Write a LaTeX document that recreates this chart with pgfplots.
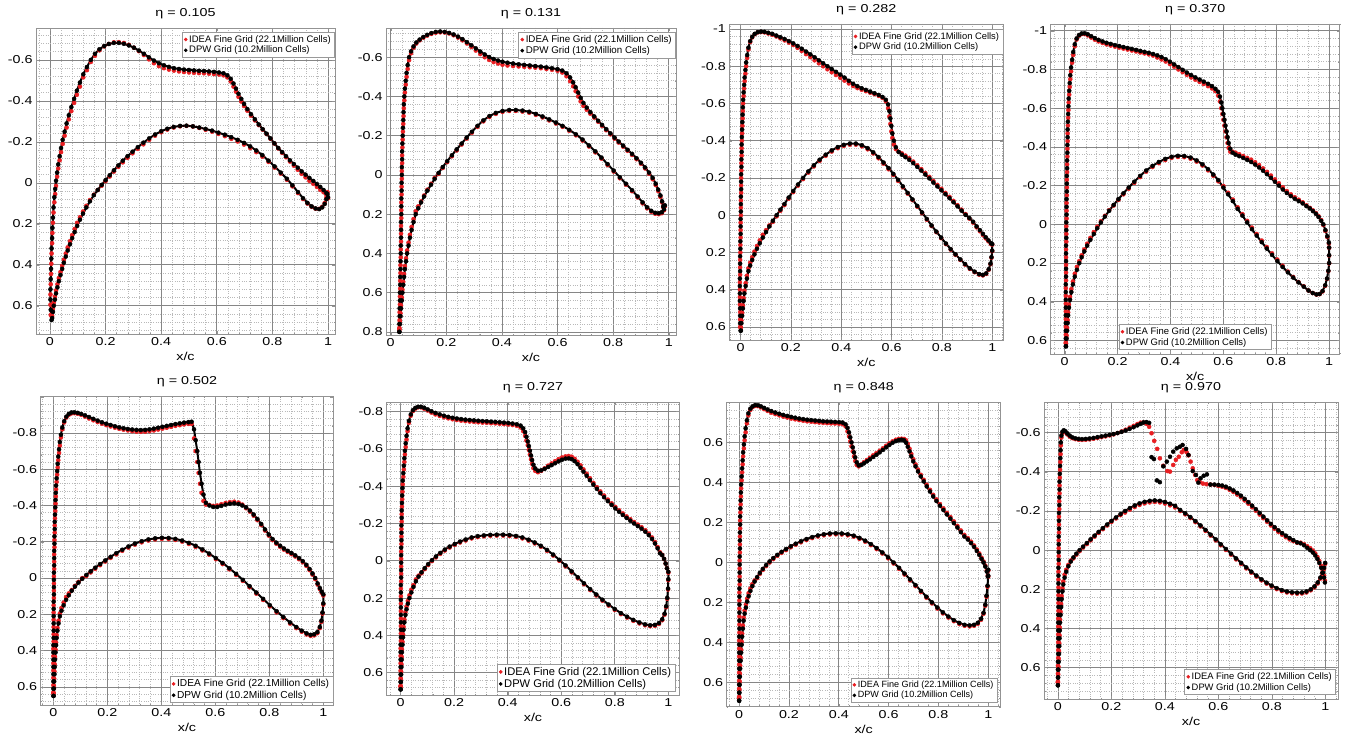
\documentclass[border=0pt]{standalone}
\usepackage{fontspec}
\setmainfont{Liberation Sans}
\usepackage{graphicx}
\usepackage{pgfplots}
\usepackage{pgfplotstable}
\pgfplotsset{compat=1.18}
\definecolor{idea}{RGB}{232,30,34}
\newcommand{\sx}[1]{\scalebox{1.25}[1]{#1}}

% ---------------- eta = 0.105 ----------------
\pgfplotstableread{
x r b
0.006 0.65 0.67
0.003 0.645 0.62
0.002 0.595 0.57
0.002 0.545 0.52
0.003 0.495 0.47
0.004 0.445 0.42
0.005 0.395 0.37
0.006 0.345 0.32
0.008 0.295 0.27
0.009 0.245 0.22
0.011 0.195 0.17
0.013 0.145 0.12
0.016 0.095 0.07
0.019 0.055 0.03
0.022 0.015 -0.01
0.026 -0.03 -0.05
0.030 -0.07 -0.09
0.035 -0.11 -0.13
0.040 -0.15 -0.17
0.046 -0.19 -0.21
0.053 -0.23 -0.25
0.060 -0.27 -0.29
0.068 -0.31 -0.33
0.077 -0.35 -0.37
0.087 -0.39 -0.41
0.097 -0.43 -0.45
0.108 -0.47 -0.49
0.120 -0.515 -0.53
0.133 -0.55 -0.565
0.147 -0.59 -0.60
0.162 -0.62 -0.63
0.178 -0.647 -0.652
0.195 -0.666 -0.668
0.212 -0.678 -0.678
0.230 -0.686 -0.683
0.248 -0.687 -0.683
0.266 -0.683 -0.679
0.284 -0.674 -0.671
0.302 -0.66 -0.66
0.320 -0.643 -0.646
0.338 -0.624 -0.63
0.356 -0.603 -0.613
0.374 -0.584 -0.597
0.392 -0.57 -0.584
0.410 -0.56 -0.574
0.428 -0.553 -0.566
0.446 -0.548 -0.56
0.464 -0.544 -0.556
0.482 -0.541 -0.553
0.500 -0.539 -0.551
0.518 -0.537 -0.549
0.536 -0.536 -0.547
0.554 -0.535 -0.546
0.572 -0.533 -0.544
0.590 -0.531 -0.542
0.608 -0.529 -0.539
0.624 -0.525 -0.535
0.638 -0.515 -0.525
0.650 -0.495 -0.508
0.660 -0.47 -0.485
0.669 -0.445 -0.46
0.678 -0.42 -0.435
0.688 -0.397 -0.41
0.698 -0.375 -0.385
0.710 -0.352 -0.36
0.723 -0.328 -0.335
0.737 -0.305 -0.31
0.751 -0.282 -0.285
0.765 -0.26 -0.262
0.779 -0.238 -0.24
0.793 -0.215 -0.217
0.807 -0.192 -0.193
0.821 -0.168 -0.17
0.835 -0.146 -0.15
0.849 -0.125 -0.13
0.863 -0.104 -0.11
0.877 -0.084 -0.092
0.891 -0.064 -0.074
0.905 -0.044 -0.056
0.919 -0.027 -0.04
0.933 -0.01 -0.024
0.947 0.005 -0.009
0.960 0.02 0.006
0.972 0.034 0.02
0.984 0.046 0.035
0.994 0.058 0.05
1.0 0.075 0.07
}\PaU
\pgfplotstableread{
x r b
0.008 0.65 0.66
0.011 0.615 0.63
0.014 0.585 0.60
0.018 0.555 0.57
0.022 0.525 0.54
0.027 0.495 0.51
0.032 0.465 0.48
0.038 0.435 0.45
0.044 0.405 0.42
0.050 0.375 0.39
0.057 0.345 0.36
0.064 0.315 0.33
0.072 0.285 0.30
0.080 0.255 0.27
0.089 0.225 0.24
0.098 0.195 0.21
0.108 0.168 0.18
0.119 0.14 0.15
0.131 0.112 0.12
0.144 0.084 0.09
0.158 0.058 0.06
0.172 0.035 0.035
0.186 0.014 0.01
0.200 -0.008 -0.013
0.215 -0.031 -0.037
0.230 -0.055 -0.061
0.246 -0.078 -0.085
0.262 -0.1 -0.108
0.279 -0.122 -0.13
0.297 -0.144 -0.152
0.316 -0.166 -0.174
0.336 -0.188 -0.196
0.357 -0.21 -0.217
0.378 -0.23 -0.236
0.400 -0.247 -0.252
0.422 -0.26 -0.264
0.445 -0.27 -0.273
0.468 -0.276 -0.278
0.491 -0.278 -0.279
0.514 -0.275 -0.276
0.537 -0.268 -0.27
0.560 -0.259 -0.263
0.583 -0.25 -0.255
0.606 -0.239 -0.245
0.629 -0.228 -0.235
0.652 -0.215 -0.223
0.675 -0.202 -0.21
0.698 -0.187 -0.195
0.720 -0.17 -0.178
0.742 -0.15 -0.158
0.764 -0.128 -0.135
0.786 -0.102 -0.108
0.808 -0.074 -0.08
0.830 -0.045 -0.05
0.852 -0.015 -0.02
0.872 0.017 0.012
0.892 0.05 0.045
0.910 0.079 0.075
0.926 0.101 0.098
0.941 0.117 0.115
0.955 0.126 0.125
0.968 0.127 0.128
0.979 0.117 0.12
0.988 0.098 0.103
0.994 0.072 0.08
0.998 0.045 0.055
}\PaL

% ---------------- eta = 0.131 ----------------
\pgfplotstableread{
x r b
0.031 0.79 0.80
0.031 0.78 0.76
0.032 0.74 0.72
0.032 0.70 0.68
0.033 0.66 0.64
0.033 0.62 0.60
0.034 0.58 0.56
0.034 0.54 0.52
0.035 0.50 0.48
0.035 0.46 0.44
0.036 0.42 0.40
0.036 0.38 0.36
0.037 0.34 0.32
0.037 0.30 0.28
0.037 0.26 0.24
0.038 0.22 0.20
0.038 0.18 0.16
0.038 0.14 0.12
0.039 0.10 0.08
0.039 0.06 0.04
0.040 0.02 0.00
0.040 -0.02 -0.04
0.041 -0.06 -0.08
0.041 -0.10 -0.12
0.042 -0.14 -0.16
0.043 -0.18 -0.20
0.044 -0.22 -0.24
0.045 -0.26 -0.28
0.046 -0.30 -0.32
0.047 -0.34 -0.36
0.049 -0.38 -0.40
0.051 -0.42 -0.44
0.054 -0.46 -0.48
0.057 -0.50 -0.52
0.061 -0.54 -0.56
0.066 -0.585 -0.60
0.073 -0.62 -0.63
0.082 -0.648 -0.655
0.092 -0.67 -0.675
0.104 -0.686 -0.69
0.117 -0.699 -0.703
0.131 -0.71 -0.714
0.146 -0.719 -0.723
0.162 -0.725 -0.729
0.178 -0.727 -0.731
0.194 -0.726 -0.729
0.210 -0.721 -0.724
0.226 -0.712 -0.716
0.242 -0.7 -0.705
0.258 -0.686 -0.692
0.274 -0.67 -0.677
0.290 -0.652 -0.661
0.306 -0.634 -0.645
0.322 -0.616 -0.629
0.338 -0.6 -0.614
0.354 -0.586 -0.601
0.370 -0.575 -0.591
0.386 -0.568 -0.583
0.402 -0.562 -0.577
0.420 -0.558 -0.572
0.440 -0.555 -0.568
0.460 -0.553 -0.564
0.480 -0.551 -0.561
0.500 -0.549 -0.558
0.520 -0.547 -0.555
0.540 -0.544 -0.552
0.560 -0.54 -0.548
0.580 -0.536 -0.544
0.600 -0.531 -0.539
0.617 -0.522 -0.532
0.632 -0.503 -0.518
0.645 -0.478 -0.497
0.656 -0.452 -0.472
0.665 -0.427 -0.447
0.674 -0.4 -0.42
0.683 -0.375 -0.393
0.693 -0.352 -0.367
0.705 -0.332 -0.343
0.718 -0.312 -0.32
0.732 -0.292 -0.298
0.746 -0.271 -0.276
0.760 -0.25 -0.255
0.775 -0.228 -0.233
0.790 -0.207 -0.212
0.805 -0.185 -0.19
0.820 -0.165 -0.17
0.836 -0.144 -0.149
0.852 -0.123 -0.128
0.868 -0.102 -0.107
0.884 -0.08 -0.085
0.900 -0.057 -0.062
0.915 -0.033 -0.038
0.929 -0.006 -0.012
0.942 0.022 0.015
0.953 0.052 0.045
0.962 0.082 0.075
0.970 0.112 0.105
0.976 0.14 0.135
0.980 0.165 0.16
}\PbU
\pgfplotstableread{
x r b
0.031 0.785 0.80
0.033 0.745 0.76
0.035 0.705 0.72
0.037 0.665 0.68
0.040 0.625 0.64
0.042 0.585 0.60
0.045 0.545 0.56
0.048 0.505 0.52
0.051 0.465 0.48
0.055 0.425 0.44
0.059 0.385 0.40
0.064 0.345 0.36
0.069 0.305 0.32
0.075 0.265 0.28
0.082 0.225 0.24
0.090 0.185 0.20
0.099 0.16 0.17
0.109 0.135 0.14
0.120 0.105 0.11
0.132 0.075 0.08
0.145 0.045 0.05
0.158 0.015 0.02
0.172 -0.005 -0.01
0.187 -0.035 -0.04
0.203 -0.065 -0.07
0.220 -0.095 -0.10
0.237 -0.125 -0.13
0.255 -0.155 -0.16
0.273 -0.185 -0.19
0.292 -0.215 -0.22
0.312 -0.245 -0.25
0.333 -0.273 -0.278
0.355 -0.295 -0.300
0.378 -0.311 -0.316
0.402 -0.321 -0.326
0.426 -0.326 -0.331
0.450 -0.326 -0.331
0.474 -0.323 -0.328
0.498 -0.317 -0.322
0.522 -0.306 -0.311
0.546 -0.293 -0.298
0.570 -0.278 -0.283
0.594 -0.262 -0.267
0.618 -0.245 -0.25
0.642 -0.225 -0.23
0.666 -0.202 -0.207
0.690 -0.175 -0.18
0.713 -0.145 -0.15
0.736 -0.115 -0.12
0.758 -0.083 -0.088
0.780 -0.05 -0.055
0.802 -0.017 -0.022
0.824 0.017 0.012
0.846 0.05 0.045
0.868 0.083 0.078
0.888 0.115 0.11
0.906 0.145 0.14
0.922 0.17 0.165
0.937 0.188 0.183
0.951 0.198 0.193
0.964 0.2 0.195
0.975 0.195 0.19
0.983 0.18 0.175
0.986 0.16 0.155
}\PbL

% ---------------- eta = 0.282 ----------------
\pgfplotstableread{
x r b
0.000 0.60 0.62
-0.002 0.60 0.58
-0.002 0.56 0.54
-0.002 0.52 0.50
-0.003 0.48 0.46
-0.003 0.44 0.42
-0.003 0.40 0.38
-0.003 0.36 0.34
-0.002 0.32 0.30
-0.002 0.28 0.26
-0.002 0.24 0.22
-0.001 0.20 0.18
-0.001 0.16 0.14
0.000 0.12 0.10
0.000 0.08 0.06
0.000 0.04 0.02
0.001 0.00 -0.02
0.001 -0.04 -0.06
0.001 -0.08 -0.10
0.002 -0.12 -0.14
0.002 -0.16 -0.18
0.002 -0.20 -0.22
0.003 -0.24 -0.26
0.003 -0.28 -0.30
0.004 -0.32 -0.34
0.004 -0.36 -0.38
0.005 -0.40 -0.42
0.006 -0.44 -0.46
0.007 -0.48 -0.50
0.008 -0.52 -0.54
0.009 -0.56 -0.58
0.010 -0.60 -0.62
0.012 -0.64 -0.66
0.014 -0.68 -0.70
0.016 -0.72 -0.74
0.019 -0.76 -0.78
0.022 -0.80 -0.82
0.026 -0.845 -0.86
0.031 -0.89 -0.90
0.038 -0.93 -0.935
0.046 -0.955 -0.958
0.056 -0.972 -0.974
0.068 -0.982 -0.983
0.081 -0.984 -0.986
0.095 -0.982 -0.985
0.110 -0.976 -0.98
0.126 -0.969 -0.974
0.142 -0.96 -0.965
0.158 -0.95 -0.956
0.175 -0.939 -0.946
0.192 -0.927 -0.935
0.209 -0.914 -0.923
0.226 -0.899 -0.909
0.243 -0.882 -0.894
0.260 -0.865 -0.879
0.277 -0.849 -0.864
0.294 -0.832 -0.848
0.311 -0.816 -0.832
0.328 -0.8 -0.816
0.345 -0.784 -0.80
0.362 -0.768 -0.785
0.379 -0.753 -0.77
0.396 -0.738 -0.755
0.413 -0.723 -0.739
0.430 -0.708 -0.722
0.447 -0.694 -0.706
0.464 -0.683 -0.693
0.481 -0.674 -0.682
0.498 -0.666 -0.673
0.515 -0.658 -0.664
0.532 -0.65 -0.655
0.549 -0.641 -0.646
0.564 -0.63 -0.635
0.577 -0.612 -0.62
0.586 -0.575 -0.595
0.591 -0.53 -0.56
0.595 -0.49 -0.52
0.599 -0.45 -0.48
0.603 -0.415 -0.44
0.609 -0.38 -0.40
0.617 -0.355 -0.365
0.628 -0.34 -0.34
0.641 -0.332 -0.325
0.655 -0.32 -0.312
0.670 -0.306 -0.298
0.686 -0.288 -0.28
0.702 -0.268 -0.26
0.718 -0.248 -0.24
0.734 -0.227 -0.219
0.750 -0.206 -0.198
0.766 -0.184 -0.176
0.782 -0.163 -0.155
0.798 -0.142 -0.134
0.814 -0.12 -0.113
0.830 -0.099 -0.092
0.846 -0.077 -0.07
0.862 -0.054 -0.048
0.878 -0.03 -0.025
0.894 -0.006 -0.002
0.909 0.018 0.015
0.924 0.04 0.035
0.938 0.065 0.06
0.951 0.086 0.08
0.963 0.106 0.1
0.974 0.124 0.118
0.985 0.14 0.135
0.995 0.155 0.15
}\PcU
\pgfplotstableread{
x r b
0.001 0.605 0.62
0.003 0.565 0.58
0.006 0.525 0.54
0.009 0.485 0.50
0.012 0.445 0.46
0.015 0.405 0.42
0.020 0.365 0.38
0.025 0.325 0.34
0.031 0.285 0.30
0.038 0.255 0.27
0.046 0.225 0.24
0.055 0.195 0.21
0.065 0.165 0.18
0.076 0.135 0.15
0.088 0.105 0.12
0.101 0.08 0.09
0.114 0.055 0.06
0.128 0.036 0.03
0.143 0.006 0.00
0.158 -0.024 -0.03
0.174 -0.054 -0.06
0.191 -0.089 -0.095
0.209 -0.124 -0.13
0.228 -0.159 -0.165
0.248 -0.194 -0.20
0.269 -0.229 -0.235
0.291 -0.262 -0.268
0.314 -0.292 -0.298
0.338 -0.319 -0.325
0.362 -0.342 -0.348
0.386 -0.36 -0.366
0.410 -0.372 -0.378
0.434 -0.379 -0.385
0.458 -0.379 -0.385
0.482 -0.37 -0.376
0.505 -0.354 -0.36
0.527 -0.332 -0.338
0.548 -0.306 -0.312
0.568 -0.277 -0.283
0.588 -0.247 -0.253
0.607 -0.216 -0.222
0.626 -0.184 -0.19
0.645 -0.15 -0.155
0.664 -0.116 -0.12
0.683 -0.081 -0.085
0.702 -0.046 -0.05
0.721 -0.011 -0.015
0.740 0.024 0.02
0.759 0.058 0.055
0.778 0.091 0.088
0.797 0.123 0.12
0.816 0.155 0.152
0.835 0.185 0.182
0.854 0.213 0.21
0.873 0.24 0.237
0.892 0.265 0.262
0.911 0.288 0.285
0.930 0.306 0.303
0.948 0.319 0.316
0.963 0.323 0.32
0.976 0.315 0.312
0.986 0.293 0.29
0.993 0.263 0.26
0.997 0.228 0.225
1.0 0.193 0.19
1.0 0.158 0.155
}\PcL

% ---------------- eta = 0.370 ----------------
\pgfplotstableread{
x r b
0.004 0.615 0.63
0.004 0.61 0.59
0.004 0.57 0.55
0.004 0.53 0.51
0.004 0.49 0.47
0.004 0.45 0.43
0.004 0.41 0.39
0.004 0.37 0.35
0.004 0.33 0.31
0.005 0.29 0.27
0.005 0.25 0.23
0.005 0.21 0.19
0.005 0.17 0.15
0.005 0.13 0.11
0.006 0.09 0.07
0.006 0.05 0.03
0.006 0.01 -0.01
0.007 -0.03 -0.05
0.007 -0.07 -0.09
0.007 -0.11 -0.13
0.008 -0.15 -0.17
0.008 -0.19 -0.21
0.008 -0.23 -0.25
0.009 -0.27 -0.29
0.009 -0.31 -0.33
0.010 -0.35 -0.37
0.010 -0.39 -0.41
0.011 -0.43 -0.45
0.011 -0.47 -0.49
0.012 -0.51 -0.53
0.013 -0.55 -0.57
0.014 -0.59 -0.61
0.015 -0.63 -0.65
0.017 -0.67 -0.69
0.019 -0.71 -0.73
0.021 -0.75 -0.77
0.024 -0.79 -0.81
0.028 -0.835 -0.85
0.032 -0.875 -0.89
0.038 -0.92 -0.93
0.045 -0.955 -0.96
0.054 -0.974 -0.978
0.064 -0.983 -0.986
0.075 -0.983 -0.987
0.087 -0.976 -0.982
0.100 -0.965 -0.972
0.114 -0.954 -0.962
0.128 -0.945 -0.953
0.143 -0.937 -0.945
0.158 -0.93 -0.938
0.174 -0.924 -0.932
0.190 -0.918 -0.926
0.206 -0.913 -0.921
0.222 -0.908 -0.916
0.238 -0.903 -0.911
0.254 -0.898 -0.906
0.270 -0.893 -0.901
0.286 -0.888 -0.896
0.302 -0.883 -0.891
0.318 -0.878 -0.886
0.334 -0.872 -0.88
0.350 -0.862 -0.873
0.366 -0.852 -0.864
0.382 -0.841 -0.853
0.398 -0.828 -0.84
0.414 -0.814 -0.826
0.430 -0.80 -0.812
0.446 -0.786 -0.798
0.462 -0.772 -0.784
0.478 -0.759 -0.771
0.494 -0.747 -0.759
0.510 -0.736 -0.748
0.526 -0.725 -0.737
0.542 -0.714 -0.726
0.557 -0.702 -0.714
0.570 -0.688 -0.70
0.580 -0.665 -0.685
0.587 -0.635 -0.66
0.592 -0.60 -0.63
0.596 -0.57 -0.60
0.600 -0.54 -0.57
0.604 -0.51 -0.54
0.608 -0.48 -0.51
0.612 -0.45 -0.48
0.616 -0.42 -0.45
0.620 -0.395 -0.42
0.626 -0.375 -0.39
0.635 -0.375 -0.37
0.646 -0.37 -0.36
0.660 -0.362 -0.352
0.675 -0.353 -0.343
0.690 -0.343 -0.333
0.705 -0.334 -0.322
0.720 -0.321 -0.309
0.735 -0.306 -0.294
0.750 -0.289 -0.277
0.765 -0.271 -0.259
0.780 -0.252 -0.24
0.795 -0.232 -0.22
0.810 -0.212 -0.2
0.825 -0.192 -0.18
0.840 -0.172 -0.162
0.855 -0.155 -0.146
0.870 -0.14 -0.132
0.885 -0.127 -0.12
0.900 -0.114 -0.108
0.914 -0.098 -0.094
0.927 -0.085 -0.082
0.939 -0.072 -0.068
0.950 -0.058 -0.054
0.960 -0.042 -0.038
0.970 -0.022 -0.018
0.978 0.004 0.0
0.986 0.034 0.03
0.993 0.066 0.062
0.999 0.1 0.095
}\PdU
\pgfplotstableread{
x r b
0.005 0.615 0.63
0.007 0.575 0.59
0.009 0.535 0.55
0.011 0.495 0.51
0.013 0.455 0.47
0.016 0.415 0.43
0.020 0.375 0.39
0.025 0.335 0.35
0.031 0.295 0.31
0.038 0.255 0.27
0.046 0.22 0.235
0.055 0.19 0.20
0.064 0.16 0.17
0.074 0.13 0.14
0.085 0.1 0.11
0.097 0.07 0.08
0.110 0.04 0.05
0.123 0.012 0.02
0.137 -0.016 -0.01
0.152 -0.044 -0.04
0.168 -0.073 -0.07
0.185 -0.097 -0.10
0.203 -0.126 -0.13
0.222 -0.155 -0.16
0.242 -0.184 -0.19
0.263 -0.214 -0.22
0.285 -0.244 -0.25
0.308 -0.272 -0.278
0.332 -0.296 -0.302
0.356 -0.316 -0.322
0.380 -0.332 -0.338
0.404 -0.343 -0.349
0.428 -0.348 -0.354
0.452 -0.347 -0.353
0.476 -0.339 -0.345
0.499 -0.324 -0.33
0.521 -0.304 -0.31
0.542 -0.279 -0.285
0.562 -0.251 -0.257
0.581 -0.222 -0.228
0.600 -0.198 -0.19
0.618 -0.163 -0.155
0.636 -0.128 -0.12
0.654 -0.088 -0.08
0.672 -0.053 -0.045
0.690 -0.018 -0.01
0.708 0.017 0.025
0.726 0.05 0.058
0.745 0.084 0.092
0.764 0.117 0.125
0.784 0.15 0.158
0.804 0.182 0.19
0.824 0.214 0.22
0.844 0.244 0.248
0.864 0.272 0.275
0.884 0.298 0.30
0.904 0.32 0.322
0.922 0.342 0.342
0.938 0.355 0.355
0.952 0.363 0.362
0.964 0.361 0.36
0.975 0.347 0.345
0.985 0.318 0.315
0.992 0.282 0.28
0.997 0.242 0.24
1.0 0.202 0.2
1.0 0.162 0.16
1.0 0.122 0.12
}\PdL

% ---------------- eta = 0.502 ----------------
\pgfplotstableread{
x r b
0.000 0.635 0.65
0.000 0.63 0.61
0.000 0.59 0.57
0.000 0.55 0.53
0.000 0.51 0.49
0.000 0.47 0.45
0.000 0.43 0.41
0.000 0.39 0.37
0.001 0.35 0.33
0.001 0.31 0.29
0.001 0.27 0.25
0.001 0.23 0.21
0.001 0.19 0.17
0.001 0.15 0.13
0.002 0.11 0.09
0.002 0.07 0.05
0.002 0.03 0.01
0.002 -0.01 -0.03
0.003 -0.05 -0.07
0.003 -0.09 -0.11
0.003 -0.13 -0.15
0.004 -0.17 -0.19
0.004 -0.21 -0.23
0.005 -0.25 -0.27
0.005 -0.29 -0.31
0.006 -0.33 -0.35
0.007 -0.37 -0.39
0.008 -0.41 -0.43
0.009 -0.45 -0.47
0.010 -0.49 -0.51
0.012 -0.53 -0.55
0.014 -0.57 -0.59
0.016 -0.61 -0.63
0.018 -0.65 -0.67
0.021 -0.69 -0.71
0.024 -0.73 -0.75
0.028 -0.775 -0.79
0.033 -0.82 -0.83
0.040 -0.858 -0.865
0.048 -0.885 -0.89
0.057 -0.9 -0.905
0.067 -0.908 -0.913
0.078 -0.909 -0.914
0.090 -0.906 -0.911
0.103 -0.9 -0.905
0.117 -0.89 -0.897
0.132 -0.88 -0.888
0.148 -0.87 -0.878
0.164 -0.86 -0.868
0.180 -0.851 -0.859
0.196 -0.843 -0.851
0.212 -0.836 -0.844
0.228 -0.829 -0.837
0.244 -0.823 -0.831
0.260 -0.818 -0.826
0.276 -0.814 -0.822
0.292 -0.81 -0.819
0.308 -0.807 -0.817
0.324 -0.806 -0.816
0.340 -0.807 -0.817
0.356 -0.81 -0.82
0.372 -0.814 -0.824
0.388 -0.819 -0.829
0.404 -0.824 -0.834
0.420 -0.829 -0.839
0.436 -0.834 -0.844
0.452 -0.839 -0.849
0.468 -0.843 -0.853
0.484 -0.847 -0.857
0.500 -0.85 -0.86
0.512 -0.85 -0.862
0.521 -0.77 -0.82
0.527 -0.70 -0.76
0.533 -0.64 -0.70
0.538 -0.58 -0.64
0.543 -0.52 -0.58
0.549 -0.47 -0.52
0.556 -0.425 -0.46
0.565 -0.405 -0.415
0.578 -0.403 -0.40
0.592 -0.398 -0.392
0.607 -0.40 -0.392
0.622 -0.407 -0.398
0.638 -0.414 -0.405
0.654 -0.419 -0.41
0.670 -0.421 -0.412
0.686 -0.416 -0.408
0.700 -0.405 -0.40
0.714 -0.385 -0.39
0.728 -0.366 -0.372
0.742 -0.344 -0.35
0.756 -0.319 -0.325
0.770 -0.292 -0.298
0.784 -0.262 -0.268
0.798 -0.234 -0.24
0.812 -0.209 -0.215
0.826 -0.189 -0.195
0.840 -0.172 -0.178
0.854 -0.157 -0.163
0.868 -0.144 -0.15
0.882 -0.132 -0.138
0.896 -0.119 -0.125
0.910 -0.104 -0.11
0.924 -0.087 -0.093
0.937 -0.067 -0.073
0.949 -0.044 -0.05
0.960 -0.019 -0.025
0.970 0.006 0.0
0.979 0.036 0.03
0.987 0.061 0.055
0.994 0.081 0.075
}\PeU
\pgfplotstableread{
x r b
0.001 0.635 0.65
0.002 0.595 0.61
0.003 0.555 0.57
0.004 0.515 0.53
0.005 0.475 0.49
0.006 0.435 0.45
0.008 0.395 0.41
0.010 0.355 0.37
0.012 0.315 0.33
0.015 0.275 0.29
0.019 0.235 0.25
0.024 0.195 0.21
0.030 0.165 0.18
0.038 0.135 0.15
0.047 0.105 0.12
0.057 0.085 0.095
0.068 0.066 0.07
0.080 0.043 0.047
0.093 0.021 0.025
0.107 0.0 0.004
0.122 -0.011 -0.017
0.138 -0.031 -0.037
0.155 -0.051 -0.057
0.173 -0.071 -0.077
0.192 -0.091 -0.097
0.212 -0.111 -0.117
0.233 -0.131 -0.137
0.255 -0.15 -0.156
0.278 -0.168 -0.174
0.302 -0.184 -0.19
0.327 -0.197 -0.203
0.352 -0.207 -0.213
0.377 -0.213 -0.219
0.402 -0.216 -0.222
0.427 -0.215 -0.221
0.452 -0.21 -0.216
0.477 -0.201 -0.207
0.502 -0.188 -0.194
0.527 -0.172 -0.178
0.552 -0.152 -0.158
0.577 -0.129 -0.135
0.602 -0.104 -0.11
0.627 -0.077 -0.083
0.652 -0.048 -0.054
0.677 -0.017 -0.023
0.702 0.016 0.01
0.727 0.051 0.045
0.752 0.086 0.08
0.777 0.121 0.115
0.802 0.156 0.15
0.827 0.189 0.183
0.852 0.221 0.215
0.877 0.251 0.245
0.900 0.276 0.27
0.920 0.296 0.29
0.938 0.311 0.305
0.953 0.319 0.313
0.966 0.316 0.31
0.978 0.304 0.298
0.987 0.276 0.27
0.993 0.241 0.235
0.997 0.196 0.19
1.0 0.146 0.14
1.0 0.096 0.09
}\PeL

% ---------------- eta = 0.727 ----------------
\pgfplotstableread{
x r b
0.000 0.675 0.69
0.000 0.67 0.65
0.000 0.63 0.61
0.000 0.59 0.57
0.000 0.55 0.53
0.000 0.51 0.49
0.000 0.47 0.45
0.001 0.43 0.41
0.001 0.39 0.37
0.001 0.35 0.33
0.001 0.31 0.29
0.001 0.27 0.25
0.001 0.23 0.21
0.001 0.19 0.17
0.001 0.15 0.13
0.002 0.11 0.09
0.002 0.07 0.05
0.002 0.03 0.01
0.002 -0.01 -0.03
0.002 -0.05 -0.07
0.003 -0.09 -0.11
0.003 -0.13 -0.15
0.003 -0.17 -0.19
0.004 -0.21 -0.23
0.004 -0.25 -0.27
0.005 -0.29 -0.31
0.006 -0.33 -0.35
0.007 -0.37 -0.39
0.008 -0.41 -0.43
0.010 -0.45 -0.47
0.012 -0.49 -0.51
0.014 -0.53 -0.55
0.016 -0.57 -0.59
0.019 -0.61 -0.63
0.022 -0.65 -0.67
0.026 -0.695 -0.71
0.031 -0.74 -0.75
0.038 -0.778 -0.785
0.046 -0.803 -0.808
0.055 -0.816 -0.82
0.065 -0.823 -0.826
0.076 -0.823 -0.826
0.088 -0.816 -0.821
0.101 -0.806 -0.812
0.115 -0.795 -0.802
0.130 -0.785 -0.793
0.146 -0.777 -0.785
0.162 -0.77 -0.778
0.178 -0.764 -0.772
0.194 -0.759 -0.767
0.210 -0.755 -0.763
0.226 -0.752 -0.76
0.242 -0.749 -0.757
0.258 -0.747 -0.755
0.274 -0.745 -0.753
0.290 -0.743 -0.751
0.306 -0.741 -0.749
0.322 -0.74 -0.748
0.338 -0.738 -0.746
0.354 -0.737 -0.745
0.370 -0.735 -0.743
0.386 -0.733 -0.741
0.402 -0.731 -0.739
0.418 -0.728 -0.736
0.434 -0.724 -0.732
0.448 -0.715 -0.725
0.458 -0.695 -0.71
0.465 -0.67 -0.69
0.470 -0.645 -0.665
0.475 -0.62 -0.64
0.479 -0.595 -0.615
0.483 -0.57 -0.59
0.487 -0.545 -0.565
0.491 -0.52 -0.54
0.496 -0.497 -0.515
0.503 -0.482 -0.495
0.513 -0.475 -0.483
0.525 -0.482 -0.485
0.538 -0.496 -0.493
0.551 -0.51 -0.503
0.564 -0.522 -0.513
0.577 -0.534 -0.523
0.590 -0.545 -0.533
0.603 -0.554 -0.542
0.616 -0.56 -0.548
0.628 -0.562 -0.549
0.639 -0.558 -0.545
0.650 -0.547 -0.534
0.661 -0.531 -0.518
0.672 -0.512 -0.499
0.683 -0.49 -0.478
0.695 -0.467 -0.456
0.707 -0.443 -0.433
0.720 -0.418 -0.409
0.733 -0.395 -0.386
0.746 -0.372 -0.363
0.760 -0.35 -0.341
0.774 -0.328 -0.32
0.788 -0.308 -0.3
0.802 -0.289 -0.281
0.816 -0.271 -0.263
0.830 -0.254 -0.246
0.844 -0.238 -0.23
0.858 -0.223 -0.215
0.872 -0.208 -0.2
0.886 -0.194 -0.186
0.900 -0.18 -0.172
0.914 -0.164 -0.156
0.927 -0.146 -0.138
0.939 -0.125 -0.117
0.950 -0.101 -0.093
0.960 -0.074 -0.067
0.969 -0.045 -0.04
0.977 -0.032 -0.03
0.984 -0.01 -0.01
0.990 0.015 0.015
0.995 0.04 0.04
}\PfU
\pgfplotstableread{
x r b
0.000 0.675 0.69
0.001 0.635 0.65
0.002 0.595 0.61
0.003 0.555 0.57
0.004 0.515 0.53
0.005 0.475 0.49
0.007 0.435 0.45
0.009 0.395 0.41
0.011 0.355 0.37
0.014 0.315 0.33
0.018 0.275 0.29
0.022 0.245 0.26
0.027 0.215 0.23
0.033 0.185 0.20
0.040 0.155 0.17
0.048 0.13 0.14
0.057 0.1 0.11
0.067 0.08 0.085
0.078 0.067 0.062
0.090 0.045 0.04
0.103 0.023 0.018
0.117 0.002 -0.003
0.132 -0.018 -0.023
0.148 -0.037 -0.042
0.165 -0.055 -0.06
0.183 -0.071 -0.076
0.202 -0.085 -0.09
0.222 -0.098 -0.103
0.243 -0.109 -0.114
0.265 -0.12 -0.125
0.288 -0.127 -0.132
0.311 -0.131 -0.136
0.335 -0.134 -0.139
0.359 -0.135 -0.14
0.383 -0.135 -0.14
0.407 -0.133 -0.138
0.431 -0.128 -0.133
0.455 -0.12 -0.125
0.478 -0.108 -0.113
0.501 -0.093 -0.098
0.524 -0.075 -0.08
0.547 -0.053 -0.058
0.570 -0.028 -0.033
0.593 0.0 -0.005
0.616 0.03 0.025
0.639 0.062 0.057
0.662 0.094 0.089
0.685 0.126 0.121
0.708 0.157 0.152
0.731 0.186 0.181
0.754 0.214 0.209
0.777 0.24 0.235
0.800 0.264 0.259
0.823 0.286 0.281
0.846 0.305 0.3
0.869 0.322 0.317
0.892 0.336 0.331
0.913 0.346 0.341
0.932 0.351 0.346
0.950 0.349 0.344
0.965 0.339 0.334
0.977 0.319 0.314
0.986 0.289 0.284
0.992 0.249 0.244
0.996 0.204 0.199
0.999 0.154 0.149
1.0 0.104 0.099
1.0 0.064 0.059
}\PfL

% ---------------- eta = 0.848 ----------------
\pgfplotstableread{
x r b
0.000 0.675 0.69
0.000 0.67 0.65
0.000 0.63 0.61
0.000 0.59 0.57
0.000 0.55 0.53
0.000 0.51 0.49
0.000 0.47 0.45
0.000 0.43 0.41
0.000 0.39 0.37
0.001 0.35 0.33
0.001 0.31 0.29
0.001 0.27 0.25
0.001 0.23 0.21
0.001 0.19 0.17
0.001 0.15 0.13
0.002 0.11 0.09
0.002 0.07 0.05
0.002 0.03 0.01
0.002 -0.01 -0.03
0.003 -0.05 -0.07
0.003 -0.09 -0.11
0.003 -0.13 -0.15
0.004 -0.17 -0.19
0.004 -0.21 -0.23
0.005 -0.25 -0.27
0.006 -0.29 -0.31
0.007 -0.33 -0.35
0.008 -0.37 -0.39
0.010 -0.41 -0.43
0.012 -0.45 -0.47
0.014 -0.49 -0.51
0.016 -0.53 -0.55
0.019 -0.57 -0.59
0.022 -0.61 -0.63
0.026 -0.65 -0.67
0.031 -0.695 -0.71
0.037 -0.735 -0.745
0.045 -0.762 -0.768
0.054 -0.776 -0.78
0.064 -0.782 -0.786
0.075 -0.781 -0.785
0.087 -0.775 -0.78
0.100 -0.766 -0.772
0.114 -0.757 -0.764
0.129 -0.748 -0.756
0.145 -0.741 -0.749
0.161 -0.735 -0.743
0.177 -0.729 -0.737
0.193 -0.724 -0.732
0.209 -0.719 -0.727
0.225 -0.715 -0.723
0.241 -0.711 -0.719
0.257 -0.708 -0.716
0.273 -0.705 -0.713
0.289 -0.703 -0.711
0.305 -0.701 -0.709
0.321 -0.699 -0.707
0.337 -0.697 -0.705
0.353 -0.696 -0.704
0.369 -0.695 -0.703
0.385 -0.694 -0.702
0.401 -0.693 -0.701
0.415 -0.691 -0.699
0.427 -0.68 -0.69
0.435 -0.655 -0.672
0.441 -0.63 -0.65
0.446 -0.605 -0.625
0.451 -0.58 -0.60
0.456 -0.555 -0.575
0.461 -0.53 -0.55
0.466 -0.507 -0.525
0.472 -0.487 -0.5
0.480 -0.48 -0.485
0.490 -0.49 -0.487
0.501 -0.501 -0.495
0.513 -0.512 -0.505
0.525 -0.523 -0.515
0.538 -0.535 -0.527
0.551 -0.546 -0.538
0.564 -0.558 -0.55
0.577 -0.57 -0.562
0.590 -0.583 -0.575
0.603 -0.595 -0.587
0.616 -0.605 -0.598
0.629 -0.613 -0.606
0.641 -0.617 -0.611
0.652 -0.618 -0.613
0.662 -0.617 -0.61
0.670 -0.61 -0.598
0.677 -0.592 -0.578
0.684 -0.568 -0.555
0.691 -0.542 -0.53
0.699 -0.516 -0.505
0.708 -0.49 -0.48
0.718 -0.464 -0.455
0.729 -0.438 -0.43
0.741 -0.413 -0.405
0.753 -0.388 -0.38
0.766 -0.363 -0.355
0.779 -0.338 -0.33
0.792 -0.315 -0.307
0.806 -0.292 -0.284
0.820 -0.27 -0.262
0.834 -0.248 -0.24
0.848 -0.227 -0.219
0.862 -0.205 -0.197
0.876 -0.183 -0.175
0.890 -0.16 -0.152
0.904 -0.138 -0.13
0.918 -0.122 -0.115
0.931 -0.104 -0.097
0.943 -0.085 -0.078
0.954 -0.065 -0.058
0.964 -0.045 -0.038
0.973 -0.024 -0.018
0.981 -0.005 0.0
0.988 0.015 0.02
0.994 0.04 0.045
0.998 0.065 0.07
}\PgU
\pgfplotstableread{
x r b
0.000 0.675 0.69
0.001 0.635 0.65
0.002 0.595 0.61
0.003 0.555 0.57
0.004 0.515 0.53
0.006 0.475 0.49
0.008 0.435 0.45
0.010 0.395 0.41
0.012 0.355 0.37
0.015 0.315 0.33
0.018 0.275 0.29
0.022 0.24 0.255
0.027 0.21 0.225
0.032 0.18 0.195
0.038 0.153 0.168
0.045 0.13 0.142
0.053 0.108 0.118
0.062 0.09 0.095
0.072 0.078 0.073
0.083 0.057 0.052
0.095 0.037 0.032
0.108 0.018 0.013
0.122 0.0 -0.005
0.137 -0.017 -0.022
0.153 -0.033 -0.038
0.170 -0.048 -0.053
0.188 -0.062 -0.067
0.207 -0.076 -0.081
0.227 -0.089 -0.094
0.248 -0.101 -0.106
0.270 -0.112 -0.117
0.293 -0.122 -0.127
0.316 -0.13 -0.135
0.340 -0.136 -0.141
0.364 -0.14 -0.145
0.388 -0.141 -0.146
0.412 -0.14 -0.145
0.436 -0.136 -0.141
0.460 -0.129 -0.134
0.483 -0.118 -0.123
0.506 -0.104 -0.109
0.529 -0.087 -0.092
0.552 -0.067 -0.072
0.575 -0.045 -0.05
0.598 -0.021 -0.026
0.620 0.005 0.0
0.642 0.032 0.027
0.664 0.06 0.055
0.686 0.089 0.084
0.708 0.118 0.113
0.730 0.147 0.142
0.752 0.176 0.171
0.774 0.204 0.199
0.796 0.23 0.225
0.818 0.254 0.249
0.840 0.275 0.27
0.862 0.293 0.288
0.884 0.307 0.302
0.905 0.316 0.311
0.925 0.319 0.314
0.943 0.316 0.311
0.958 0.306 0.301
0.971 0.286 0.281
0.981 0.256 0.251
0.988 0.216 0.211
0.993 0.171 0.166
0.997 0.121 0.116
1.0 0.071 0.066
1.0 0.041 0.036
}\PgL

% ---------------- eta = 0.970 ----------------
\pgfplotstableread{
x r b
0.000 0.675 0.69
0.000 0.67 0.65
0.000 0.63 0.61
0.000 0.59 0.57
0.001 0.55 0.53
0.001 0.51 0.49
0.001 0.47 0.45
0.001 0.43 0.41
0.001 0.39 0.37
0.001 0.35 0.33
0.002 0.31 0.29
0.002 0.27 0.25
0.002 0.23 0.21
0.002 0.19 0.17
0.002 0.15 0.13
0.002 0.11 0.09
0.003 0.07 0.05
0.003 0.03 0.01
0.003 -0.01 -0.03
0.003 -0.05 -0.07
0.004 -0.09 -0.11
0.004 -0.13 -0.15
0.004 -0.17 -0.19
0.005 -0.21 -0.23
0.005 -0.25 -0.27
0.006 -0.29 -0.31
0.006 -0.33 -0.35
0.007 -0.37 -0.39
0.008 -0.41 -0.43
0.009 -0.45 -0.47
0.010 -0.49 -0.51
0.011 -0.535 -0.55
0.013 -0.575 -0.585
0.017 -0.598 -0.605
0.022 -0.606 -0.612
0.028 -0.602 -0.607
0.035 -0.591 -0.596
0.044 -0.58 -0.585
0.054 -0.572 -0.576
0.065 -0.567 -0.571
0.077 -0.564 -0.568
0.090 -0.563 -0.567
0.104 -0.564 -0.568
0.118 -0.566 -0.57
0.133 -0.569 -0.573
0.148 -0.573 -0.577
0.163 -0.577 -0.581
0.178 -0.581 -0.585
0.193 -0.586 -0.589
0.208 -0.591 -0.593
0.223 -0.598 -0.598
0.238 -0.606 -0.604
0.253 -0.615 -0.611
0.268 -0.625 -0.619
0.283 -0.635 -0.628
0.297 -0.644 -0.637
0.309 -0.651 -0.645
0.320 -0.652 -0.652
0.331 -0.645 -0.654
0.341 -0.63 -0.65
}\PhUa
\pgfplotstableread{
x r
0.350 -0.597
0.360 -0.558
0.371 -0.517
0.381 -0.469
0.394 -0.431
0.409 -0.404
0.419 -0.401
0.431 -0.435
0.441 -0.461
0.452 -0.477
0.463 -0.5
0.471 -0.512
0.481 -0.5
0.488 -0.484
0.496 -0.452
0.504 -0.418
0.513 -0.384
0.521 -0.358
0.531 -0.347
0.542 -0.34
0.555 -0.337
}\PhSr
\pgfplotstableread{
x b
0.350 -0.475
0.359 -0.465
0.370 -0.356
0.381 -0.347
0.394 -0.428
0.407 -0.452
0.419 -0.477
0.431 -0.503
0.444 -0.52
0.456 -0.528
0.466 -0.537
0.479 -0.517
0.488 -0.486
0.504 -0.404
0.516 -0.384
0.525 -0.345
0.533 -0.367
0.545 -0.38
0.557 -0.387
}\PhSb
\pgfplotstableread{
x r b
0.570 -0.335 -0.335
0.585 -0.333 -0.335
0.600 -0.328 -0.333
0.614 -0.324 -0.33
0.628 -0.318 -0.324
0.642 -0.308 -0.315
0.656 -0.297 -0.305
0.670 -0.284 -0.292
0.684 -0.27 -0.278
0.698 -0.254 -0.262
0.712 -0.237 -0.245
0.726 -0.219 -0.227
0.740 -0.201 -0.209
0.754 -0.182 -0.19
0.768 -0.163 -0.171
0.782 -0.144 -0.152
0.796 -0.126 -0.134
0.810 -0.109 -0.117
0.824 -0.093 -0.101
0.838 -0.079 -0.087
0.852 -0.066 -0.074
0.866 -0.055 -0.062
0.880 -0.046 -0.051
0.894 -0.038 -0.04
0.907 -0.038 -0.035
0.920 -0.03 -0.025
0.932 -0.02 -0.012
0.943 -0.01 0.0
0.953 0.002 0.012
0.962 0.017 0.027
0.970 0.035 0.045
0.977 0.055 0.065
0.984 0.08 0.09
0.990 0.105 0.115
0.995 0.13 0.14
0.998 0.155 0.165
}\PhUb
\pgfplotstableread{
x r b
0.000 0.675 0.69
0.001 0.635 0.65
0.002 0.595 0.61
0.003 0.555 0.57
0.004 0.515 0.53
0.005 0.475 0.49
0.006 0.435 0.45
0.007 0.395 0.41
0.008 0.355 0.37
0.010 0.315 0.33
0.012 0.275 0.29
0.014 0.235 0.25
0.017 0.195 0.21
0.020 0.16 0.175
0.025 0.125 0.14
0.031 0.1 0.11
0.039 0.075 0.082
0.048 0.053 0.058
0.058 0.042 0.037
0.069 0.023 0.018
0.081 0.005 0.0
0.094 -0.013 -0.018
0.108 -0.031 -0.036
0.122 -0.05 -0.055
0.137 -0.069 -0.074
0.152 -0.088 -0.093
0.168 -0.107 -0.112
0.184 -0.126 -0.131
0.200 -0.144 -0.149
0.217 -0.162 -0.167
0.234 -0.179 -0.184
0.251 -0.192 -0.2
0.269 -0.207 -0.215
0.287 -0.22 -0.228
0.305 -0.231 -0.239
0.324 -0.239 -0.247
0.343 -0.244 -0.252
0.362 -0.246 -0.254
0.381 -0.244 -0.252
0.400 -0.238 -0.246
0.419 -0.229 -0.237
0.438 -0.218 -0.226
0.457 -0.2 -0.205
0.476 -0.183 -0.188
0.495 -0.164 -0.169
0.514 -0.143 -0.148
0.533 -0.121 -0.126
0.552 -0.098 -0.103
0.571 -0.074 -0.079
0.590 -0.05 -0.055
0.609 -0.025 -0.03
0.628 -0.001 -0.006
0.647 0.023 0.018
0.666 0.047 0.042
0.685 0.07 0.065
0.704 0.093 0.088
0.723 0.115 0.11
0.742 0.135 0.13
0.761 0.154 0.149
0.780 0.171 0.166
0.799 0.186 0.181
0.818 0.199 0.194
0.837 0.209 0.204
0.856 0.216 0.211
0.875 0.22 0.215
0.894 0.222 0.217
0.912 0.221 0.216
0.929 0.216 0.211
0.945 0.205 0.2
0.959 0.19 0.185
0.971 0.17 0.165
0.981 0.145 0.14
0.989 0.12 0.115
0.995 0.095 0.09
0.999 0.07 0.065
}\PhL

\pgfplotsset{
  cp/.style={
    scale only axis, y dir=reverse, clip=true,
    axis line style={gray!85, line width=0.6pt},
    tick style={gray!85, line width=0.4pt},
    major tick length=3pt, minor tick length=1.5pt,
    grid=both,
    major grid style={gray!95, line width=0.65pt},
    minor grid style={gray!55, dotted, line width=0.55pt},
    minor x tick num=4, minor y tick num=4,
    xtick={-0.2,0,0.2,0.4,0.6,0.8,1,1.2},
    xticklabels={,\sx{0},\sx{0.2},\sx{0.4},\sx{0.6},\sx{0.8},\sx{1},},
    tick label style={font=\fontsize{11.5}{12}\selectfont},
    xlabel={\sx{x/c}},
    label style={font=\fontsize{11.5}{12}\selectfont},
    title style={font=\fontsize{11.5}{12}\selectfont},
    legend cell align=left,
    legend style={draw=gray!80, fill=white, inner xsep=2pt, inner ysep=1pt,
      row sep=-1.5pt, line width=0.6pt},
    legend image code/.code={\draw[#1, mark size=1.5pt] plot coordinates {(0.08cm,0cm)};},
  },
  rm/.style={only marks, mark=*, mark size=2.05pt, color=idea},
  bm/.style={only marks, mark=*, mark size=2.05pt, color=black},
  bl/.style={black, line width=2pt, forget plot},
}
\newcommand{\cpplots}[2]{%
  \addplot[rm] table[x=x,y=r]{#1};
  \addlegendentry{IDEA Fine Grid (22.1Million Cells)}
  \addplot[rm,forget plot] table[x=x,y=r]{#2};
  \addplot[bl] table[x=x,y=b]{#1};
  \addplot[bl] table[x=x,y=b]{#2};
  \addplot[bm] table[x=x,y=b]{#1};
  \addlegendentry{DPW Grid (10.2Million Cells)}
  \addplot[bm,forget plot] table[x=x,y=b]{#2};
}

\begin{document}
\begin{tikzpicture}
\path[use as bounding box] (0,0) rectangle (1358bp,738bp);

% eta = 0.105
\begin{axis}[cp, at={(36bp,404bp)}, anchor=south west, width=299bp, height=306bp,
  xmin=-0.05, xmax=1.025, ymin=-0.756, ymax=0.738,
  ytick={-0.8,-0.6,-0.4,-0.2,0,0.2,0.4,0.6,0.8},
  yticklabels={,\sx{-0.6},\sx{-0.4},\sx{-0.2},\sx{0},\sx{0.2},\sx{0.4},\sx{0.6},},
  title={\sx{η = 0.105}},
  legend style={at={(1,1)}, anchor=north east, yshift=-4bp, font=\fontsize{9.5}{11}\selectfont}]
\cpplots{\PaU}{\PaL}
\end{axis}

% eta = 0.131
\begin{axis}[cp, at={(386bp,403bp)}, anchor=south west, width=290bp, height=307bp,
  xmin=-0.017, xmax=1.026, ymin=-0.749, ymax=0.816,
  ytick={-0.8,-0.6,-0.4,-0.2,0,0.2,0.4,0.6,0.8,1},
  yticklabels={,\sx{-0.6},\sx{-0.4},\sx{-0.2},\sx{0},\sx{0.2},\sx{0.4},\sx{0.6},\sx{0.8},},
  title={\sx{η = 0.131}},
  legend style={at={(1,1)}, anchor=north east, yshift=-4bp, font=\fontsize{9.8}{11}\selectfont}]
\cpplots{\PbU}{\PbL}
\end{axis}

% eta = 0.282
\begin{axis}[cp, at={(729.3bp,398bp)}, anchor=south west, width=274bp, height=316bp,
  xmin=-0.045, xmax=1.044, ymin=-1.027, ymax=0.67,
  ytick={-1.2,-1,-0.8,-0.6,-0.4,-0.2,0,0.2,0.4,0.6,0.8},
  yticklabels={,\sx{-1},\sx{-0.8},\sx{-0.6},\sx{-0.4},\sx{-0.2},\sx{0},\sx{0.2},\sx{0.4},\sx{0.6},},
  title={\sx{η = 0.282}},
  legend style={at={(1,1)}, anchor=north east, yshift=-5bp, font=\fontsize{9.4}{11}\selectfont}]
\cpplots{\PcU}{\PcL}
\end{axis}

% eta = 0.370
\begin{axis}[cp, at={(1050.7bp,384bp)}, anchor=south west, width=289bp, height=330bp,
  xmin=-0.053, xmax=1.04, ymin=-1.035, ymax=0.67,
  ytick={-1.2,-1,-0.8,-0.6,-0.4,-0.2,0,0.2,0.4,0.6,0.8},
  yticklabels={,\sx{-1},\sx{-0.8},\sx{-0.6},\sx{-0.4},\sx{-0.2},\sx{0},\sx{0.2},\sx{0.4},\sx{0.6},},
  title={\sx{η = 0.370}},
  legend style={at={(0.5,0)}, anchor=south, yshift=4bp, font=\fontsize{9.5}{11}\selectfont}]
\cpplots{\PdU}{\PdL}
\end{axis}

% eta = 0.502
\begin{axis}[cp, at={(40.7bp,33bp)}, anchor=south west, width=292.6bp, height=308.3bp,
  xmin=-0.047, xmax=1.037, ymin=-1.0, ymax=0.70,
  ytick={-1,-0.8,-0.6,-0.4,-0.2,0,0.2,0.4,0.6,0.8},
  yticklabels={,\sx{-0.8},\sx{-0.6},\sx{-0.4},\sx{-0.2},\sx{0},\sx{0.2},\sx{0.4},\sx{0.6},},
  title={\sx{η = 0.502}},
  legend style={at={(1,0)}, anchor=south east, yshift=2bp, font=\fontsize{10.2}{11.5}\selectfont}]
\cpplots{\PeU}{\PeL}
\end{axis}

% eta = 0.727
\begin{axis}[cp, at={(386.7bp,43bp)}, anchor=south west, width=292.6bp, height=292.7bp,
  xmin=-0.052, xmax=1.041, ymin=-0.85, ymax=0.72,
  ytick={-1,-0.8,-0.6,-0.4,-0.2,0,0.2,0.4,0.6,0.8},
  yticklabels={,\sx{-0.8},\sx{-0.6},\sx{-0.4},\sx{-0.2},\sx{0},\sx{0.2},\sx{0.4},\sx{0.6},},
  title={\sx{η = 0.727}},
  legend style={at={(1,0)}, anchor=south east, xshift=-4bp, yshift=3bp, font=\fontsize{11.2}{13.5}\selectfont}]
\cpplots{\PfU}{\PfL}
\end{axis}

% eta = 0.848
\begin{axis}[cp, at={(726.7bp,31.3bp)}, anchor=south west, width=274bp, height=304.4bp,
  xmin=-0.05, xmax=1.05, ymin=-0.8, ymax=0.72,
  ytick={-0.8,-0.6,-0.4,-0.2,0,0.2,0.4,0.6,0.8},
  yticklabels={,\sx{0.6},\sx{0.4},\sx{0.2},\sx{0},\sx{0.2},\sx{0.4},\sx{0.6},},
  title={\sx{η = 0.848}},
  legend style={at={(1,0)}, anchor=south east, xshift=-3bp, yshift=4bp, font=\fontsize{9.1}{10.5}\selectfont}]
\cpplots{\PgU}{\PgL}
\end{axis}

% eta = 0.970
\begin{axis}[cp, at={(1044bp,39bp)}, anchor=south west, width=294bp, height=296.7bp,
  xmin=-0.052, xmax=1.047, ymin=-0.755, ymax=0.76,
  ytick={-0.8,-0.6,-0.4,-0.2,0,0.2,0.4,0.6,0.8},
  yticklabels={,\sx{-0.6},\sx{-0.4},\sx{-0.2},\sx{0},\sx{0.2},\sx{0.4},\sx{0.6},},
  title={\sx{η = 0.970}},
  legend style={at={(1,0)}, anchor=south east, xshift=-2bp, yshift=4bp, font=\fontsize{9.4}{11}\selectfont}]
\addplot[rm] table[x=x,y=r]{\PhUa};
\addlegendentry{IDEA Fine Grid (22.1Million Cells)}
\addplot[rm,forget plot] table[x=x,y=r]{\PhSr};
\addplot[rm,forget plot] table[x=x,y=r]{\PhUb};
\addplot[rm,forget plot] table[x=x,y=r]{\PhL};
\addplot[bl] table[x=x,y=b]{\PhUa};
\addplot[bl] table[x=x,y=b]{\PhUb};
\addplot[bl] table[x=x,y=b]{\PhL};
\addplot[bm] table[x=x,y=b]{\PhUa};
\addlegendentry{DPW Grid (10.2Million Cells)}
\addplot[bm,forget plot] table[x=x,y=b]{\PhSb};
\addplot[bm,forget plot] table[x=x,y=b]{\PhUb};
\addplot[bm,forget plot] table[x=x,y=b]{\PhL};
\end{axis}
\end{tikzpicture}
\end{document}
